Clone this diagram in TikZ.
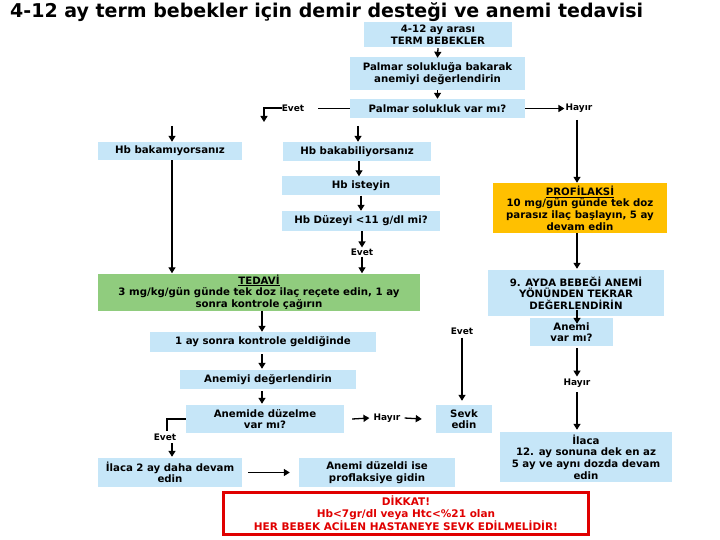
\documentclass[tikz,border=0pt]{standalone}
\usepackage{fontspec}
\setmainfont{DejaVu Sans}
\usetikzlibrary{arrows.meta}
\definecolor{boxblue}{HTML}{C6E6F8}
\definecolor{boxgreen}{HTML}{90CC7E}
\definecolor{boxorange}{HTML}{FFC000}
\definecolor{alertred}{HTML}{E00000}
\newcommand{\bxfont}{\fontsize{10.2}{11.6}\selectfont\bfseries}
\newcommand{\lbfont}{\fontsize{9}{10}\selectfont\bfseries}
\tikzset{
  bx/.style={fill=boxblue, draw=none, align=center, inner sep=0pt, font=\bxfont, text=black},
  lbl/.style={font=\lbfont, inner sep=1pt},
  arr/.style={-{Triangle[width=7pt,length=6pt]}, line width=1.3pt},
  ln/.style={line width=1.3pt},
}
\begin{document}
\begin{tikzpicture}[x=1pt,y=-1pt]
\useasboundingbox (0,0) rectangle (720,540);
\fill[white] (0,0) rectangle (720,540);
\node[anchor=west, font=\fontsize{19}{22}\selectfont\bfseries, inner sep=0pt] (title) at (10,12) {4-12 ay term bebekler için demir desteği ve anemi tedavisi};

\node[bx, minimum width=148pt, minimum height=25pt] (b1) at (438,34.5) {4-12 ay arası\\TERM BEBEKLER};
\node[bx, minimum width=175pt, minimum height=33pt] (b2) at (437.5,73.5) {Palmar solukluğa bakarak\\anemiyi değerlendirin};
\node[bx, minimum width=175pt, minimum height=19pt] (b3) at (437.5,108.5) {Palmar solukluk var mı?};

\node[lbl] (evet1) at (293,108) {Evet};
\node[lbl] (hayir1) at (579,108) {Hayır};
\coordinate (c1) at (264,122);
\coordinate (c0) at (318,108.5);
\coordinate (c2) at (172,126);
\coordinate (c3) at (358,126);

\node[bx, minimum width=144pt, minimum height=18pt] (hbno) at (170,151) {Hb bakamıyorsanız};
\node[bx, minimum width=148pt, minimum height=19pt] (hbyes) at (357,151.5) {Hb bakabiliyorsanız};
\node[bx, minimum width=158pt, minimum height=19pt] (hbist) at (361,186) {Hb isteyin};
\node[bx, minimum width=158pt, minimum height=20pt] (hbduz) at (361,221) {Hb Düzeyi <11 g/dl mi?};
\node[lbl] (evet2) at (362,252) {Evet};

\node[bx, fill=boxorange, minimum width=174pt, minimum height=50pt] (prof) at (580,208) {\underline{PROFİLAKSİ}\\10 mg/gün günde tek doz\\parasız ilaç başlayın, 5 ay\\devam edin};

\node[bx, fill=boxgreen, minimum width=322pt, minimum height=37pt] (ted) at (259,292) {\underline{TEDAVİ}\\3 mg/kg/gün günde tek doz ilaç reçete edin, 1 ay\\sonra kontrole çağırın};

\node[bx, minimum width=176pt, minimum height=46pt] (ay9) at (576,293) {9. AYDA BEBEĞİ ANEMİ\\YÖNÜNDEN TEKRAR\\DEĞERLENDİRİN};
\node[bx, minimum width=83pt, minimum height=28pt] (anvar) at (571.5,332) {Anemi\\var mı?};
\node[lbl] (hayir2) at (577,383) {Hayır};
\node[bx, minimum width=172pt, minimum height=50pt] (ilaca12) at (586,457) {İlaca\\12. ay sonuna dek en az\\5 ay ve aynı dozda devam\\edin};

\node[bx, minimum width=226pt, minimum height=20pt] (k1) at (263,342) {1 ay sonra kontrole geldiğinde};
\node[bx, minimum width=176pt, minimum height=19pt] (and) at (268,379.5) {Anemiyi değerlendirin};
\node[bx, minimum width=158pt, minimum height=28pt] (duz) at (265,419) {Anemide düzelme\\var mı?};
\node[lbl] (hayir3) at (387,418) {Hayır};
\node[bx, minimum width=56pt, minimum height=28pt] (sevk) at (464,419) {Sevk\\edin};
\node[lbl] (evet3) at (462,331) {Evet};
\node[lbl] (evet4) at (165,437) {Evet};
\coordinate (c4) at (167,431);
\coordinate (c5) at (172,443);

\node[bx, minimum width=144pt, minimum height=29pt] (ilaca2) at (170,472.5) {İlaca 2 ay daha devam\\edin};
\node[bx, minimum width=156pt, minimum height=29pt] (anduz) at (377,472.5) {Anemi düzeldi ise\\proflaksiye gidin};

\node[bx, fill=white, draw=alertred, line width=3pt, text=alertred, minimum width=365pt, minimum height=42pt, font=\fontsize{10.5}{12}\selectfont\bfseries] (dikkat) at (406,513.5) {DİKKAT!\\Hb<7gr/dl veya Htc<\%21 olan\\HER BEBEK ACİLEN HASTANEYE SEVK EDİLMELİDİR!};

% connectors
\draw[arr] ([yshift=-1pt]b1.south) -- ([yshift=-1pt]b2.north);
\draw[arr] (b2.south) -- (b3.north);
\draw[ln] (b3.west) -- (c0);
\draw[arr] (evet1.west -| 282,0) -| (c1);
\draw[arr] (b3.east) -- (b3.east -| hayir1.west);
\draw[arr] (577,120) -- (prof.north -| 577,0);
\draw[arr] (c2) -- (c2 |- hbno.north);
\draw[arr] (c3) -- (c3 |- hbyes.north);
\draw[arr] (hbno.south -| c2) -- (ted.north -| c2);
\draw[arr] (hbyes.south -| 359,0) -- (hbist.north -| 359,0);
\draw[arr] (hbist.south -| 361,0) -- (hbduz.north -| 361,0);
\draw[arr] (hbduz.south -| evet2) -- (evet2.north);
\draw[arr] (evet2.south) -- (ted.north -| evet2);
\draw[arr] (prof.south -| 577,0) -- ([yshift=1pt]ay9.north -| 577,0);
\draw[arr] ([yshift=6pt]ay9.south -| 577,0) -- ([yshift=-6pt]anvar.north -| 577,0);
\draw[arr] ([yshift=-2pt]anvar.south -| 577,0) -- ([yshift=1pt]hayir2.north -| 577,0);
\draw[arr] ([yshift=-4pt]hayir2.south -| 577,0) -- ([yshift=2pt]ilaca12.north -| 577,0);
\draw[arr] (ted.south -| 262,0) -- (k1.north -| 262,0);
\draw[arr] ([yshift=-2pt]k1.south -| 262,0) -- ([yshift=1pt]and.north -| 262,0);
\draw[arr] ([yshift=-2pt]and.south -| 262,0) -- ([yshift=1pt]duz.north -| 262,0);
\draw[arr] ([xshift=8pt]duz.east) -- ([xshift=-3pt]hayir3.west);
\draw[arr] ([xshift=3pt]hayir3.east) -- ([xshift=-14pt]sevk.west);
\draw[arr] ([yshift=-2pt]evet3.south) -- ([yshift=4pt]sevk.north -| evet3);
\draw[ln] (duz.west) -| (c4);
\draw[arr] (c5) -- ([yshift=1pt]ilaca2.north -| c5);
\draw[arr] ([xshift=6pt]ilaca2.east) -- ([xshift=-9pt]anduz.west);
\end{tikzpicture}
\end{document}
